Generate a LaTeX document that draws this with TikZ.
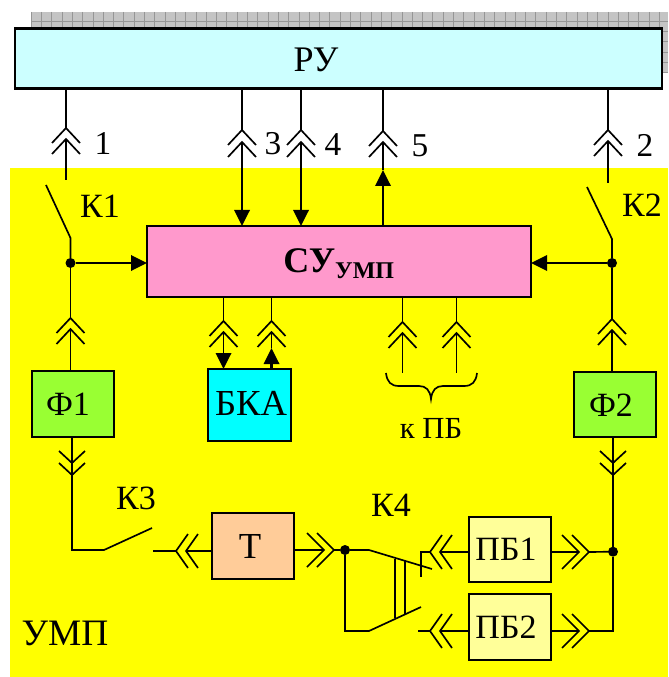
\documentclass[tikz,border=0pt]{standalone}
\usepackage{fontspec}
\setmainfont{Liberation Serif}
\usetikzlibrary{arrows.meta}
\definecolor{ruc}{HTML}{CCFFFF}
\definecolor{suc}{HTML}{FF99CC}
\definecolor{filc}{HTML}{99FF33}
\definecolor{bkac}{HTML}{00FFFF}
\definecolor{tc}{HTML}{FFCC99}
\definecolor{pbc}{HTML}{FFFF99}
\definecolor{shc}{HTML}{C4C4C4}
\definecolor{shl}{HTML}{969696}
\definecolor{umpc}{HTML}{FFFF00}
\tikzset{
  wire/.style={line width=1.25pt,line cap=butt,line join=miter},
  hvy/.style={line width=1.8pt},
  headed/.style={hvy,-{Triangle[length=12pt,width=11.5pt]}},
  blockbox/.style={draw=black,line width=1.9pt,inner sep=0pt,outer sep=0pt,align=center},
  lab/.style={inner sep=0pt,outer sep=0pt,font=\fontsize{25.5}{27}\selectfont},
  blab/.style={font=\fontsize{27.5}{29}\selectfont},
}
\tikzset{jdot/.style={circle,fill=black,inner sep=0pt,minimum size=7.5pt,outer sep=0pt}}
\newcommand{\dchev}[7]{%
  \begin{scope}[shift={(#2,#3)},rotate=#4]
    \coordinate (#1-a) at (0,0);
    \coordinate (#1-b) at (0,#7);
    \draw[wire] (-#6,#5) -- (0,0) -- (#6,#5);
    \draw[wire] (-#6,#5+#7) -- (0,#7) -- (#6,#5+#7);
  \end{scope}}
\begin{document}
\begin{tikzpicture}[x=0.75pt,y=-0.75pt]
\useasboundingbox (0,0) rectangle (668,677);
% grey shadow
\fill[shc] (31,12) rectangle (668,73);
\foreach \i in {0,...,61}{\draw[shl,line width=0.4pt] ({31+\i*10.3},12) -- ({31+\i*10.3},73);}
\foreach \j in {0,...,5}{\draw[shl,line width=0.4pt] (31,{21+\j*10.3}) -- (668,{21+\j*10.3});}
% yellow field
\fill[umpc] (10,168) rectangle (668,677);
% blocks
\node[blockbox,fill=ruc,minimum width=647*0.75pt,minimum height=60*0.75pt] (ru) at (338.5,58.5) {};
\node[lab,font=\fontsize{27}{29}\selectfont] at (316,60) {РУ};
\node[blockbox,fill=suc,minimum width=384*0.75pt,minimum height=71*0.75pt] (su) at (339,261.5) {};
\node[inner sep=0pt,anchor=base west] at (283,272) {\fontsize{27}{29}\selectfont\bfseries СУ\raisebox{-4.5pt}{\fontsize{18}{20}\selectfont УМП}};
\node[blockbox,fill=filc,minimum width=82*0.75pt,minimum height=66*0.75pt] (f1) at (73,404) {};
\node[lab] at (68,404) {Ф1};
\node[blockbox,fill=filc,minimum width=82*0.75pt,minimum height=65*0.75pt] (f2) at (615,404.5) {};
\node[lab] at (611,405) {Ф2};
\node[blockbox,fill=bkac,minimum width=83*0.75pt,minimum height=72*0.75pt] (bka) at (249.5,405) {};
\node[lab,blab] at (251,403) {БКА};
\node[blockbox,fill=tc,minimum width=82*0.75pt,minimum height=66*0.75pt] (t) at (253,546) {};
\node[lab,blab] at (250,546) {Т};
\node[blockbox,fill=pbc,minimum width=82*0.75pt,minimum height=65*0.75pt] (pb1) at (510,549.5) {};
\node[lab] at (506,549.5) {ПБ1};
\node[blockbox,fill=pbc,minimum width=82*0.75pt,minimum height=66*0.75pt] (pb2) at (510,627) {};
\node[lab] at (506,627) {ПБ2};
% chevrons
\dchev{c1}{66}{128}{0}{15}{14}{11}
\dchev{c3}{242}{130}{0}{15}{14}{12}
\dchev{c4}{301}{130}{0}{15}{14}{12}
\dchev{c5}{383}{131}{0}{15}{14}{11}
\dchev{c2}{608}{130}{0}{15}{14}{11}
\dchev{cf1}{70.5}{318}{0}{15}{14}{11}
\dchev{cf2}{612}{319}{0}{15}{14}{11}
\dchev{cb1}{223.5}{321}{0}{15}{14}{11}
\dchev{cb2}{271.5}{321}{0}{15}{14}{11}
\dchev{cp1}{402.5}{322}{0}{15}{14}{11}
\dchev{cp2}{456.5}{322}{0}{15}{14}{11}
\dchev{df1}{72}{475}{180}{12}{13}{12}
\dchev{df2}{613}{475}{180}{12}{13}{12}
\dchev{tl}{176}{551}{90}{12}{17}{10}
\dchev{tr}{334}{550}{-90}{17}{17}{10}
\dchev{p1l}{430}{552}{90}{12}{17}{10}
\dchev{p2l}{430}{631}{90}{12}{17}{10}
\dchev{p1r}{589}{552}{-90}{17}{17}{10}
\dchev{p2r}{589}{631}{-90}{17}{17}{10}
% junctions and free ends
\node[jdot] (j1) at (70.5,263) {};
\node[jdot] (j2) at (612,263) {};
\node[jdot] (j3) at (613,551.7) {};
\node[jdot] (j4) at (345,550) {};
\coordinate (k1o) at (66,180);
\coordinate (k1t) at (46,185);
\coordinate (k1p) at (70.5,238);
\coordinate (k2o) at (608,183);
\coordinate (k2t) at (587,187);
\coordinate (k2p) at (612,239);
\coordinate (k3c) at (72,550);
\coordinate (k3p) at (104,550);
\coordinate (k3t) at (152,528);
\coordinate (k3o) at (153,551);
\coordinate (k4u) at (369,550);
\coordinate (k4ut) at (432,569);
\coordinate (k4d) at (369,631);
\coordinate (k4dt) at (421,607);
\coordinate (k4dl) at (345,631);
\coordinate (k4o1) at (421,552);
\coordinate (k4o2) at (418,631);
\coordinate (tk1) at (421,551);
\coordinate (tk2) at (421,577);
\coordinate (lk1a) at (395,559);
\coordinate (lk1b) at (395,618);
\coordinate (lk2a) at (405,561);
\coordinate (lk2b) at (405,614);
\coordinate (cor) at (613,631);
\coordinate (h3) at (242,207);
\coordinate (h4) at (301,205);
\coordinate (h5) at (383,170);
\coordinate (hb1) at (223.5,353);
\coordinate (hb2) at (271.5,348);
\coordinate (hj1) at (103,263);
\coordinate (hj2) at (560,263);
\coordinate (ep1) at (402.5,373);
\coordinate (ep2) at (456.5,373);
% connectors
\draw[wire] (ru.south -| c1-a) -- (c1-a);
\draw[wire] (c1-b) -- (k1o);
\draw[wire] (ru.south -| c3-a) -- (c3-a);
\draw[wire] (c3-b) -- (h3);
\draw[headed] (h3) -- (su.north -| h3);
\draw[wire] (ru.south -| c4-a) -- (c4-a);
\draw[wire] (c4-b) -- (h4);
\draw[headed] (h4) -- (su.north -| h4);
\draw[wire] (ru.south -| c5-a) -- (c5-a);
\draw[wire] (c5-b) -- (h5);
\draw[headed] (su.north -| h5) -- (h5);
\draw[wire] (ru.south -| c2-a) -- (c2-a);
\draw[wire] (c2-b) -- (k2o);
\draw[wire] (k1t) -- (k1p) -- (j1);
\draw[wire] (k2t) -- (k2p) -- (j2);
\draw[wire] (j1) -- (cf1-a);
\draw[wire] (cf1-b) -- (f1.north -| cf1-b);
\draw[wire] (j2) -- (cf2-a);
\draw[wire] (cf2-b) -- (f2.north -| cf2-b);
\draw[wire] (j1) -- (hj1);
\draw[headed] (hj1) -- (su.west |- hj1);
\draw[wire] (j2) -- (hj2);
\draw[headed] (hj2) -- (su.east |- hj2);
\draw[wire] (su.south -| cb1-a) -- (cb1-a);
\draw[wire] (cb1-b) -- (hb1);
\draw[headed] (hb1) -- (bka.north -| hb1);
\draw[wire] (su.south -| cb2-a) -- (cb2-a);
\draw[wire] (cb2-b) -- (hb2);
\draw[headed] (bka.north -| hb2) -- (hb2);
\draw[wire] (su.south -| cp1-a) -- (cp1-a);
\draw[wire] (cp1-b) -- (ep1);
\draw[wire] (su.south -| cp2-a) -- (cp2-a);
\draw[wire] (cp2-b) -- (ep2);
\draw[wire] (f1.south -| df1-a) -- (df1-a);
\draw[wire] (f2.south -| df2-a) -- (df2-a);
\draw[wire] (df1-b) -- (k3c) -- (k3p) -- (k3t);
\draw[wire] (df2-b) -- (j3);
\draw[wire] (k3o) -- (tl-a);
\draw[wire] (tl-b) -- (t.west |- tl-b);
\draw[wire] (t.east |- tr-b) -- (tr-b);
\draw[wire] (tr-a) -- (j4);
\draw[wire] (j4) -- (k4u) -- (k4ut);
\draw[wire] (j4) -- (k4dl) -- (k4d) -- (k4dt);
\draw[wire] (tk1) -- (tk2);
\draw[wire] (lk1a) -- (lk1b);
\draw[wire] (lk2a) -- (lk2b);
\draw[wire] (k4o1) -- (p1l-a);
\draw[wire] (p1l-b) -- (pb1.west |- p1l-b);
\draw[wire] (k4o2) -- (p2l-a);
\draw[wire] (p2l-b) -- (pb2.west |- p2l-b);
\draw[wire] (pb1.east |- p1r-b) -- (p1r-b);
\draw[wire] (p1r-a) -- (j3);
\draw[wire] (pb2.east |- p2r-b) -- (p2r-b);
\draw[wire] (p2r-a) -- (cor) -- (j3);
% brace
\draw[wire] (386,373) .. controls (387,382) and (391,386) .. (399,386)
  -- (419,386) .. controls (426,386) and (430,390) .. (431,399)
  .. controls (432,390) and (436,386) .. (443,386)
  -- (464,386) .. controls (472,386) and (476,382) .. (477,373);
% labels
\node[lab,font=\fontsize{25}{27}\selectfont] at (103,143) {1};
\node[lab,font=\fontsize{25}{27}\selectfont] at (273,144) {3};
\node[lab,font=\fontsize{25}{27}\selectfont] at (333,145) {4};
\node[lab,font=\fontsize{25}{27}\selectfont] at (420,146) {5};
\node[lab,font=\fontsize{25}{27}\selectfont] at (645,145) {2};
\node[lab] at (100,206) {К1};
\node[lab] at (642,205) {К2};
\node[lab] at (136,498) {К3};
\node[lab] at (391,505) {К4};
\node[lab,font=\fontsize{28}{30}\selectfont] at (65,633) {УМП};
\node[lab,font=\fontsize{23}{25}\selectfont] at (431,428) {к ПБ};
\end{tikzpicture}
\end{document}
